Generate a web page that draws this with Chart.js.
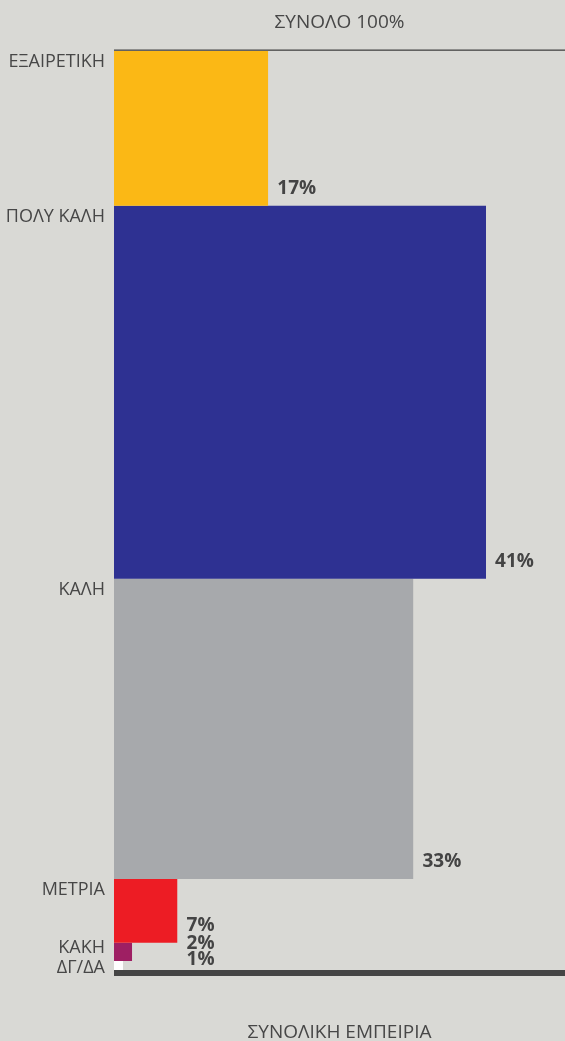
<!DOCTYPE html>
<html>
<head>
<meta charset="utf-8">
<script src="https://cdn.jsdelivr.net/npm/chart.js@4/dist/chart.umd.min.js"></script>
<style>
body{margin:0;background:#d9d9d5}
</style>
</head>
<body>
<canvas id="chart" width="565" height="1041"></canvas>
<script>

// DATA

const categories = ['ΕΞΑΙΡΕΤΙΚΗ','ΠΟΛΥ ΚΑΛΗ','ΚΑΛΗ','ΜΕΤΡΙΑ','ΚΑΚΗ','ΔΓ/ΔΑ']
const values = [17,41,33,7,2,1]
const colors = ['#fbb815','#2e3192','#a7a9ac','#ed1c24','#9e1f63','#ffffff']
const topTitle = 'ΣΥΝΟΛΟ 100%'
const bottomTitle = 'ΣΥΝΟΛΙΚΗ ΕΜΠΕΙΡΙΑ'


// every band starts where the previous one ends, its thickness = its value

let starts = []
let total = 0
values.forEach(v=>{
starts.push(total)
total += v
})

const datasets = values.map((v,i)=>({
label: categories[i],
data: [{x:0,y:starts[i]+v},{x:v,y:starts[i]+v}],
fill: {value: starts[i]},
backgroundColor: colors[i],
borderColor: 'rgba(0,0,0,0)',
borderWidth: 0,
pointRadius: 0
}))


// TEXTS AND RULES

const decor = {
id: 'decor',
afterDatasetsDraw(chart){

const {ctx, chartArea:a} = chart
const x = chart.scales.x
const y = chart.scales.y
const w = a.right - a.left

ctx.save()

ctx.fillStyle = '#454545'
ctx.fillRect(a.left, y.getPixelForValue(0)-1.5, w, 1.3)
ctx.fillRect(a.left, y.getPixelForValue(total), w, 6)

ctx.fillStyle = '#474747'
ctx.font = '19px "Open Sans"'
ctx.textAlign = 'center'
ctx.textBaseline = 'middle'
ctx.fillText(topTitle, (a.left+a.right)/2, 23)
ctx.fillText(bottomTitle, (a.left+a.right)/2, 1033)

// category names, pushed up when bands are thin
ctx.font = '18px "Open Sans"'
ctx.textAlign = 'right'
let catY = []
let next = y.getPixelForValue(total) - 2 + 20
for(let i=categories.length-1;i>=0;i--){
let py = Math.min(y.getPixelForValue(starts[i]) + 11, next - 20)
catY[i] = py
next = py
}
categories.forEach((c,i)=>{
ctx.fillText(c, a.left - 9, catY[i])
})

// value labels, pushed down when bands are thin
ctx.font = 'bold 19px "Open Sans"'
ctx.fillStyle = '#444444'
ctx.textAlign = 'left'
let prevY = -100
let prevX = a.left
values.forEach((v,i)=>{
let py = Math.max(y.getPixelForValue(starts[i]+v) - 17, prevY + 16)
let px = x.getPixelForValue(v) + 9
if(v < 5 && px < prevX) px = prevX
ctx.fillText(v + '%', px, py)
prevY = py
prevX = px
})

ctx.restore()
}
}


// CHART

new Chart(document.getElementById('chart'),{
type: 'line',
data: {datasets: datasets},
options: {
responsive: false,
animation: false,
layout: {padding: {left:114, right:0, top:51, bottom:71}},
scales: {
x: {type:'linear', min:0, max:49.7, display:false},
y: {type:'linear', min:0, max:total, reverse:true, display:false}
},
plugins: {
legend: {display:false},
tooltip: {enabled:false},
filler: {propagate:false}
}
},
plugins: [decor]
})

</script>
</body>
</html>
